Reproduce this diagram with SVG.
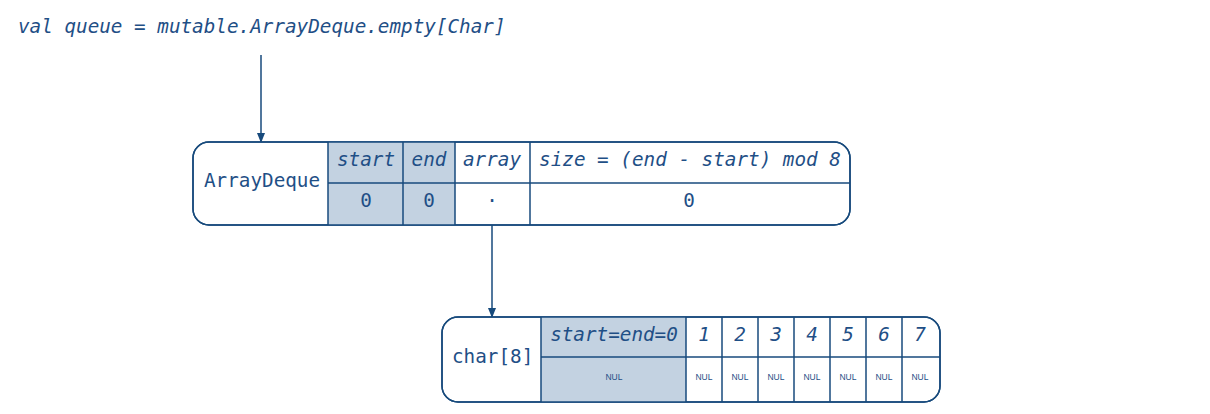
<svg xmlns="http://www.w3.org/2000/svg" width="1210" height="414" viewBox="0 0 1210 414">
<defs>
<marker id="arr" markerWidth="10" markerHeight="10" refX="9" refY="5" orient="auto" markerUnits="userSpaceOnUse">
<path d="M0,1 L10,5 L0,9 Z" fill="#174a7c"/>
</marker>
<style>
.t{font-family:"DejaVu Sans Mono","Liberation Mono",monospace;font-size:19.3px;fill:#1f4f86}
.i{font-style:italic}
.c{text-anchor:middle}
.n{font-family:"Liberation Sans","DejaVu Sans",sans-serif;font-size:8.5px;fill:#1f4f86;text-anchor:middle}
.box{fill:#fff;stroke:#174a7c;stroke-width:1.5}
.ln{stroke:#174a7c;stroke-width:1.5;fill:none}
.sh{fill:#c3d2e1}
</style>
</defs>
<rect width="1210" height="414" fill="#fff"/>
<text class="t i" x="18" y="33">val queue = mutable.ArrayDeque.empty[Char]</text>
<g id="connectors">
<line class="ln" x1="261" y1="55" x2="261" y2="142" marker-end="url(#arr)"/>
<line class="ln" x1="492" y1="225" x2="492" y2="317" marker-end="url(#arr)"/>
</g>
<g id="arraydeque">
<rect class="box" x="193" y="142" width="657" height="83" rx="16"/>
<rect class="sh" x="328" y="142" width="127" height="83"/>
<line class="ln" x1="328" y1="183" x2="850" y2="183"/>
<line class="ln" x1="328" y1="142" x2="328" y2="225"/>
<line class="ln" x1="403" y1="142" x2="403" y2="225"/>
<line class="ln" x1="455" y1="142" x2="455" y2="225"/>
<line class="ln" x1="530" y1="142" x2="530" y2="225"/>
<rect x="193" y="142" width="657" height="83" rx="16" fill="none" stroke="#174a7c" stroke-width="1.5"/>
<text class="t" x="204" y="187">ArrayDeque</text>
<text class="t i c" x="366" y="166">start</text>
<text class="t i c" x="429" y="166">end</text>
<text class="t i c" x="492" y="166">array</text>
<text class="t i c" x="690" y="166">size = (end - start) mod 8</text>
<text class="t c" x="366" y="207">0</text>
<text class="t c" x="429" y="207">0</text>
<text class="t c" x="492" y="207">·</text>
<text class="t c" x="689" y="207">0</text>
</g>
<g id="chararray">
<rect class="box" x="442" y="317" width="498" height="85" rx="16"/>
<rect class="sh" x="541" y="317" width="145" height="85"/>
<line class="ln" x1="541" y1="357" x2="940" y2="357"/>
<line class="ln" x1="541" y1="317" x2="541" y2="402"/>
<line class="ln" x1="686" y1="317" x2="686" y2="402"/>
<line class="ln" x1="722" y1="317" x2="722" y2="402"/>
<line class="ln" x1="758" y1="317" x2="758" y2="402"/>
<line class="ln" x1="794" y1="317" x2="794" y2="402"/>
<line class="ln" x1="830" y1="317" x2="830" y2="402"/>
<line class="ln" x1="866" y1="317" x2="866" y2="402"/>
<line class="ln" x1="902" y1="317" x2="902" y2="402"/>
<rect x="442" y="317" width="498" height="85" rx="16" fill="none" stroke="#174a7c" stroke-width="1.5"/>
<text class="t" x="452" y="363">char[8]</text>
<text class="t i c" x="614" y="341">start=end=0</text>
<text class="t i c" x="704" y="341">1</text>
<text class="t i c" x="740" y="341">2</text>
<text class="t i c" x="776" y="341">3</text>
<text class="t i c" x="812" y="341">4</text>
<text class="t i c" x="848" y="341">5</text>
<text class="t i c" x="884" y="341">6</text>
<text class="t i c" x="920" y="341">7</text>
<text class="n" x="614" y="380">NUL</text>
<text class="n" x="704" y="380">NUL</text>
<text class="n" x="740" y="380">NUL</text>
<text class="n" x="776" y="380">NUL</text>
<text class="n" x="812" y="380">NUL</text>
<text class="n" x="848" y="380">NUL</text>
<text class="n" x="884" y="380">NUL</text>
<text class="n" x="920" y="380">NUL</text>
</g>
</svg>
